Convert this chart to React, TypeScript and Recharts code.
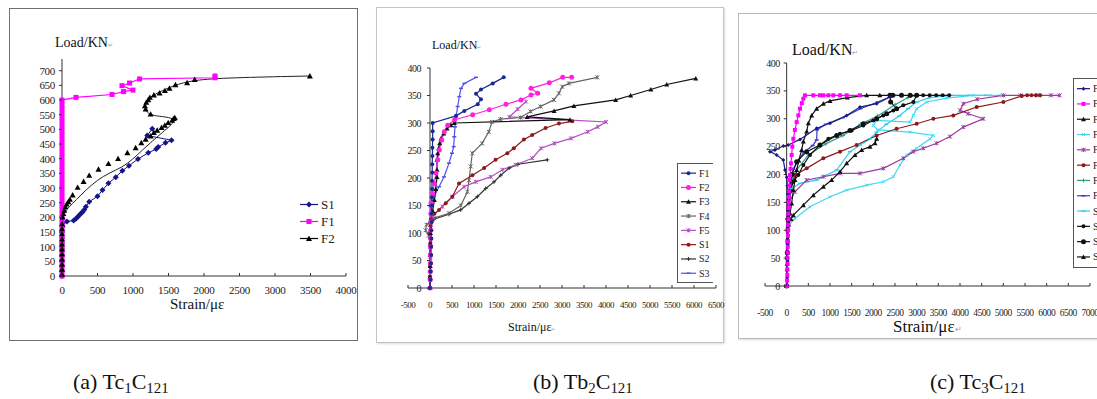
import { LineChart, Line, XAxis, YAxis, ReferenceLine } from 'recharts';

const FONT = '"Liberation Serif", "Times New Roman", serif';

type Pt = [number, number];
type Shape = 'diamond' | 'square' | 'triangle' | 'circle' | 'x' | 'star' | 'plus' | 'dash' | 'none';

interface Series {
  id: string;
  name: string;
  pts: Pt[];
  color: string;
  shape: Shape;
  size: number;
  width?: number;
  noLine?: boolean;
  curve?: 'linear' | 'basis';
}

// ---------- (a) Tc1C121 ----------
const aXTicks = [0, 500, 1000, 1500, 2000, 2500, 3000, 3500, 4000];
const aYTicks = [0, 50, 100, 150, 200, 250, 300, 350, 400, 450, 500, 550, 600, 650, 700];

const aS1: Pt[] = [
  [0, 0], [0, 15], [0, 34], [0, 54], [0, 72], [0, 92], [0, 111], [0, 130], [0, 149], [9, 169], [9, 180],
  [70, 186], [164, 189], [196, 195], [220, 201], [243, 207], [266, 213], [290, 218], [313, 226], [336, 236],
  [383, 253], [500, 272], [570, 293], [654, 316], [757, 337], [850, 359], [944, 376], [1070, 399], [1215, 420],
  [1327, 433], [1355, 440], [1458, 454], [1542, 463], [1201, 479], [1271, 502],
];
const aF1: Pt[] = [
  [0, 0], [0, 15], [0, 30], [0, 45], [0, 60], [0, 75], [0, 90], [0, 105], [0, 120], [0, 135], [0, 150],
  [0, 165], [0, 180], [0, 195], [0, 210], [0, 225], [0, 240], [0, 255], [0, 270], [0, 285], [0, 300],
  [0, 315], [0, 330], [0, 345], [0, 360], [0, 375], [0, 390], [0, 405], [0, 420], [0, 435], [0, 450],
  [0, 465], [0, 480], [0, 495], [0, 510], [0, 525], [0, 540], [0, 555], [0, 570], [0, 585], [0, 600],
  [197, 609], [704, 619], [868, 629], [1000, 634], [845, 649], [952, 658], [1093, 672], [2155, 676], [2155, 682],
];
const aF2: Pt[] = [
  [0, 6], [0, 23], [0, 40], [0, 57], [0, 75], [0, 92], [0, 109], [0, 126], [0, 144], [0, 161], [0, 178],
  [9, 201], [19, 213], [33, 224], [47, 236], [65, 245], [89, 253], [112, 261], [150, 276], [220, 302],
  [304, 322], [383, 343], [514, 364], [654, 383], [790, 400], [921, 420], [1037, 437], [1117, 454],
  [1178, 466], [1248, 477], [1294, 489], [1341, 497], [1402, 506], [1449, 514], [1496, 523], [1552, 531],
  [1575, 537], [1589, 540], [1248, 552], [1178, 569], [1168, 580], [1187, 592], [1215, 601], [1238, 609],
  [1294, 617], [1374, 624], [1449, 632], [1514, 640], [1598, 652], [1762, 659], [1869, 670], [3491, 682],
];
const aF2Curve: Pt[] = [
  [0, 0], [0, 195], [33, 218], [103, 236], [196, 259], [336, 293], [500, 328], [664, 351], [850, 371],
  [991, 397], [1131, 429], [1271, 460], [1411, 489], [1551, 517], [1598, 537], [1411, 544], [1248, 548],
  [1178, 563], [1168, 580], [1187, 598], [1271, 615], [1411, 632], [1598, 652], [1879, 670], [2486, 677],
  [3491, 682],
];

// ---------- (b) Tb2C121 ----------
const bXTicks = [-500, 0, 500, 1000, 1500, 2000, 2500, 3000, 3500, 4000, 4500, 5000, 5500, 6000, 6500];
const bYTicks = [0, 50, 100, 150, 200, 250, 300, 350, 400];

const bF1: Pt[] = [
  [0, 0], [10, 15], [15, 30], [20, 45], [25, 60], [25, 75], [30, 90], [30, 105], [35, 120], [35, 135],
  [40, 150], [40, 165], [45, 180], [45, 195], [50, 210], [50, 225], [55, 240], [55, 255], [60, 270],
  [60, 285], [60, 300], [591, 313], [780, 322], [1084, 334], [1159, 343], [1045, 353], [1159, 361],
  [1425, 372], [1675, 383],
];
const bF2: Pt[] = [
  [0, 0], [5, 15], [5, 30], [10, 45], [10, 60], [10, 75], [15, 90], [15, 105], [20, 120], [20, 135],
  [23, 154], [61, 172], [98, 190], [136, 209], [175, 233], [211, 251], [266, 269], [325, 284], [402, 296],
  [560, 306], [970, 315], [1348, 324], [1727, 334], [2068, 342], [2295, 351], [2448, 354], [2295, 363],
  [2711, 373], [3016, 383], [3220, 383],
];
const bF3: Pt[] = [
  [0, 0], [0, 20], [5, 40], [5, 60], [10, 80], [10, 100], [20, 120], [60, 140], [100, 160], [130, 180],
  [159, 202], [159, 215], [159, 233], [175, 245], [197, 254], [220, 263], [250, 272], [311, 281],
  [387, 290], [478, 296], [552, 300], [3180, 306], [2210, 311], [2820, 322], [3270, 331], [4220, 342],
  [4560, 350], [5020, 361], [5380, 370], [6040, 381],
];
const bF4: Pt[] = [
  [0, 0], [0, 20], [5, 40], [5, 60], [10, 80], [-30, 95], [-100, 105], [-80, 115], [91, 127], [432, 136],
  [700, 150], [850, 175], [886, 196], [925, 221], [961, 245], [1184, 263], [1336, 284], [1412, 302],
  [1602, 307], [2057, 310], [2284, 321], [2512, 330], [2816, 342], [2930, 354], [3005, 366], [3157, 372],
  [3802, 383],
];
const bF5: Pt[] = [
  [0, 0], [0, 25], [5, 50], [5, 75], [10, 100], [20, 115], [53, 130], [280, 148], [507, 166], [773, 184],
  [1038, 193], [1379, 202], [1643, 215], [1947, 224], [2325, 236], [2523, 254], [2826, 263], [3205, 272],
  [3584, 284], [3811, 293], [4000, 302], [1803, 311], [1992, 325], [2182, 339],
];
const bS1: Pt[] = [
  [0, 0], [0, 20], [0, 40], [5, 60], [5, 80], [5, 100], [10, 115], [20, 125], [100, 135], [205, 142],
  [357, 154], [507, 166], [660, 190], [963, 205], [1230, 218], [1490, 233], [1757, 245], [1905, 254],
  [2133, 270], [2322, 278], [2626, 291], [2930, 299], [3233, 303],
];
const bS2: Pt[] = [
  [0, 0], [0, 30], [5, 60], [5, 90], [15, 112], [91, 125], [432, 134], [697, 142], [886, 154], [1075, 166],
  [1266, 181], [1455, 193], [1607, 205], [1800, 218], [2000, 225], [2666, 233],
];
const bS3: Pt[] = [
  [0, 0], [0, 30], [5, 60], [5, 90], [10, 120], [15, 148], [91, 166], [205, 184], [318, 202], [432, 227],
  [500, 245], [538, 257], [552, 275], [568, 293], [591, 311], [629, 330], [666, 348], [705, 363],
  [780, 372], [1045, 383],
];

// ---------- (c) Tc3C121 ----------
const cXTicks = [-500, 0, 500, 1000, 1500, 2000, 2500, 3000, 3500, 4000, 4500, 5000, 5500, 6000, 6500, 7000];
const cYTicks = [0, 50, 100, 150, 200, 250, 300, 350, 400];

const cF1: Pt[] = [
  [0, 0], [10, 15], [15, 30], [20, 45], [20, 60], [25, 75], [25, 90], [25, 105], [30, 120], [30, 135],
  [25, 150], [20, 165], [15, 180], [0, 195], [-39, 208], [-77, 226], [-231, 235], [-385, 241], [-270, 244],
  [-77, 251], [37, 253], [307, 263], [692, 283], [1000, 292], [1385, 306], [1692, 321], [2077, 327],
  [2385, 339],
];
const cF2: Pt[] = [
  [0, 0], [10, 10], [15, 20], [15, 30], [20, 40], [20, 50], [25, 60], [25, 70], [30, 80], [30, 90],
  [35, 100], [35, 110], [40, 120], [40, 130], [45, 140], [45, 150], [50, 160], [55, 170], [60, 180],
  [65, 190], [77, 199], [90, 210], [100, 220], [115, 235], [130, 250], [154, 264], [190, 280], [231, 294],
  [270, 306], [308, 318], [350, 328], [385, 336], [423, 342], [615, 342], [769, 342], [846, 342],
  [962, 342], [1077, 342], [1231, 342], [1385, 342], [1692, 342],
];
const cF3: Pt[] = [
  [0, 0], [10, 30], [15, 60], [20, 85], [38, 112], [77, 130], [115, 148], [154, 172], [192, 190],
  [231, 208], [280, 225], [346, 244], [385, 259], [462, 277], [500, 292], [577, 306], [692, 318],
  [846, 327], [1000, 332], [1400, 338], [1846, 342], [2150, 342], [2400, 342],
];
const cF4: Pt[] = [
  [0, 0], [15, 40], [30, 80], [60, 110], [192, 121], [538, 142], [1000, 160], [1385, 172], [1846, 181],
  [2231, 187], [2462, 196], [2615, 217], [2769, 235], [3000, 247], [3308, 264], [3385, 270], [2850, 276],
  [2100, 280], [2000, 288], [2077, 297], [2846, 294], [2923, 306], [3000, 318], [3231, 330], [3692, 337],
  [4300, 342], [4700, 342], [4950, 342],
];
const cF5: Pt[] = [
  [0, 0], [5, 50], [15, 100], [50, 150], [192, 169], [462, 190], [846, 196], [1231, 202], [1692, 202],
  [2231, 211], [2692, 229], [2923, 241], [3152, 247], [3461, 256], [3768, 268], [4075, 285], [4536, 300],
  [4190, 309], [4000, 315], [4075, 327], [4400, 335], [5000, 342], [5400, 342], [5800, 342], [6100, 342],
  [6300, 342],
];
const cF6: Pt[] = [
  [0, 0], [10, 60], [20, 120], [60, 170], [192, 199], [462, 211], [846, 229], [1231, 241], [1615, 253],
  [2077, 270], [2538, 282], [3000, 291], [3385, 300], [3846, 306], [4385, 321], [5000, 330], [5423, 341],
  [5550, 342], [5650, 342], [5750, 342], [5850, 342],
];
const cF7: Pt[] = [
  [0, 0], [20, 80], [60, 150], [150, 200], [500, 235], [900, 255], [1300, 270], [1700, 290], [2100, 305],
  [2500, 325], [2800, 338], [3000, 342],
];
const cF8: Pt[] = [
  [0, 0], [20, 80], [50, 160], [150, 210], [400, 240], [600, 252], [692, 262], [700, 280], [900, 290],
  [1300, 302], [1700, 318], [2100, 330], [2400, 340], [2500, 342],
];
const cS1: Pt[] = [
  [0, 0], [30, 100], [70, 150], [115, 175], [308, 184], [692, 190], [1154, 208], [1461, 241], [1692, 253],
  [1923, 264], [2077, 276], [2300, 290], [2600, 305], [2800, 318], [3000, 330], [3300, 338], [3800, 342],
  [4200, 342], [4600, 342],
];
const cS2: Pt[] = [
  [0, 0], [10, 50], [20, 100], [40, 140], [80, 170], [154, 187], [269, 199], [385, 217], [538, 235],
  [769, 253], [962, 264], [1231, 273], [1500, 279], [1769, 288], [2000, 297], [2231, 306], [2462, 315],
  [2692, 324], [2923, 330], [3000, 342], [3150, 342], [3300, 342], [3450, 342], [3600, 342], [3750, 342],
];
const cS3: Pt[] = [
  [0, 0], [15, 60], [30, 120], [60, 170], [120, 200], [231, 223], [462, 241], [769, 253], [1154, 270],
  [1461, 279], [1769, 291], [2077, 300], [2308, 309], [2538, 318], [2400, 330], [2385, 342], [2450, 342],
  [2650, 342], [2850, 342], [3000, 342],
];
const cS4: Pt[] = [
  [0, 0], [10, 40], [20, 80], [40, 110], [100, 120], [154, 127], [385, 145], [615, 163], [846, 178],
  [1038, 190], [1231, 205], [1385, 220], [1577, 235], [1731, 244], [1923, 250], [2038, 256], [2077, 264],
];

const aSeries: Series[] = [
  { id: 'aF2c', name: 'F2', pts: aF2Curve, color: '#222', shape: 'none', size: 0, width: 1, curve: 'basis' },
  { id: 'aS1', name: 'S1', pts: aS1, color: '#14148c', shape: 'diamond', size: 6 },
  { id: 'aF1', name: 'F1', pts: aF1, color: '#ff00ff', shape: 'square', size: 5, width: 1.2 },
  { id: 'aF2', name: 'F2', pts: aF2, color: '#000', shape: 'triangle', size: 6, noLine: true },
];

const bSeries: Series[] = [
  { id: 'bS2', name: 'S2', pts: bS2, color: '#333', shape: 'plus', size: 4 },
  { id: 'bF4', name: 'F4', pts: bF4, color: '#666', shape: 'star', size: 4 },
  { id: 'bF5', name: 'F5', pts: bF5, color: '#b050c0', shape: 'star', size: 4 },
  { id: 'bS1', name: 'S1', pts: bS1, color: '#8b1a1a', shape: 'circle', size: 4 },
  { id: 'bS3', name: 'S3', pts: bS3, color: '#5050f0', shape: 'dash', size: 4 },
  { id: 'bF3', name: 'F3', pts: bF3, color: '#111', shape: 'triangle', size: 5 },
  { id: 'bF2', name: 'F2', pts: bF2, color: '#ff22dd', shape: 'circle', size: 5 },
  { id: 'bF1', name: 'F1', pts: bF1, color: '#1a2a90', shape: 'circle', size: 4 },
];
const bLegendOrder = ['F1', 'F2', 'F3', 'F4', 'F5', 'S1', 'S2', 'S3'];

const cSeries: Series[] = [
  { id: 'cF7', name: 'F7', pts: cF7, color: '#2e9c88', shape: 'plus', size: 4 },
  { id: 'cF8', name: 'F8', pts: cF8, color: '#3838d0', shape: 'dash', size: 4 },
  { id: 'cS1', name: 'S1', pts: cS1, color: '#33ccf0', shape: 'dash', size: 4 },
  { id: 'cF4', name: 'F4', pts: cF4, color: '#40d8f0', shape: 'x', size: 3 },
  { id: 'cF5', name: 'F5', pts: cF5, color: '#9a3aa0', shape: 'star', size: 4 },
  { id: 'cF6', name: 'F6', pts: cF6, color: '#8b1a1a', shape: 'circle', size: 4 },
  { id: 'cS4', name: 'S4', pts: cS4, color: '#111', shape: 'triangle', size: 5 },
  { id: 'cS3', name: 'S3', pts: cS3, color: '#111', shape: 'circle', size: 5 },
  { id: 'cS2', name: 'S2', pts: cS2, color: '#111', shape: 'circle', size: 4 },
  { id: 'cF3', name: 'F3', pts: cF3, color: '#111', shape: 'triangle', size: 5 },
  { id: 'cF1', name: 'F1', pts: cF1, color: '#1a1a80', shape: 'diamond', size: 4 },
  { id: 'cF2', name: 'F2', pts: cF2, color: '#ff00ff', shape: 'square', size: 4 },
];
const cLegendOrder = ['F1', 'F2', 'F3', 'F4', 'F5', 'F6', 'F7', 'F8', 'S1', 'S2', 'S3', 'S4'];

function mark(shape: Shape, cx: number, cy: number, size: number, color: string, key?: string) {
  const r = size / 2;
  if (cx == null || cy == null) return <g key={key} />;
  switch (shape) {
    case 'diamond':
      return <polygon key={key} points={`${cx},${cy - r} ${cx + r},${cy} ${cx},${cy + r} ${cx - r},${cy}`} fill={color} />;
    case 'square':
      return <rect key={key} x={cx - r} y={cy - r} width={size} height={size} fill={color} />;
    case 'triangle':
      return <polygon key={key} points={`${cx},${cy - r} ${cx + r},${cy + r * 0.8} ${cx - r},${cy + r * 0.8}`} fill={color} />;
    case 'circle':
      return <circle key={key} cx={cx} cy={cy} r={r} fill={color} />;
    case 'x':
      return <path key={key} d={`M${cx - r},${cy - r}L${cx + r},${cy + r}M${cx - r},${cy + r}L${cx + r},${cy - r}`} stroke={color} />;
    case 'star':
      return <path key={key} d={`M${cx - r},${cy - r}L${cx + r},${cy + r}M${cx - r},${cy + r}L${cx + r},${cy - r}M${cx},${cy - r}L${cx},${cy + r}`} stroke={color} />;
    case 'plus':
      return <path key={key} d={`M${cx - r},${cy}L${cx + r},${cy}M${cx},${cy - r}L${cx},${cy + r}`} stroke={color} />;
    case 'dash':
      return <path key={key} d={`M${cx - r},${cy}L${cx + r},${cy}`} stroke={color} strokeWidth={1.5} />;
    default:
      return <g key={key} />;
  }
}

interface PanelProps {
  left: number;
  top: number;
  width: number;
  height: number;
  margin: { top: number; right: number; bottom: number; left: number };
  yWidth: number;
  xHeight: number;
  xDomain: [number, number];
  xTicks: number[];
  yDomain: [number, number];
  yTicks: number[];
  series: Series[];
  zeroShift: number;
  yGap: number;
  xFont: number;
  yFont: number;
  xDy: number;
  spacing: number;
  lineW: number;
}

function Panel(p: PanelProps) {
  const axis = '#333';
  const xTick = (t: any) => (
    <g>
      <line x1={t.x} x2={t.x} y1={t.y} y2={t.y - 3} stroke={axis} />
      <text x={t.x} y={t.y + p.xDy} textAnchor="middle" fontSize={p.xFont} fill="#222" fontFamily={FONT} letterSpacing={p.spacing}>
        {t.payload.value}
      </text>
    </g>
  );
  const yTick = (t: any) => (
    <g>
      <line x1={t.x + p.zeroShift - 3} x2={t.x + p.zeroShift} y1={t.y} y2={t.y} stroke={axis} />
      <text x={t.x + p.zeroShift - p.yGap} y={t.y} dy="0.35em" textAnchor="end" fontSize={p.yFont} fill="#222" fontFamily={FONT} letterSpacing={p.spacing}>
        {t.payload.value}
      </text>
    </g>
  );
  return (
    <div style={{ position: 'absolute', left: p.left, top: p.top }}>
      <LineChart width={p.width} height={p.height} margin={p.margin}>
        <XAxis
          type="number"
          dataKey="x"
          domain={p.xDomain}
          ticks={p.xTicks}
          interval={0}
          height={p.xHeight}
          tickSize={0}
          tickMargin={0}
          tickLine={false}
          axisLine={{ stroke: axis }}
          tick={xTick}
        />
        <YAxis
          type="number"
          domain={p.yDomain}
          ticks={p.yTicks}
          interval={0}
          width={p.yWidth}
          tickSize={0}
          tickMargin={0}
          tickLine={false}
          axisLine={p.zeroShift === 0 ? { stroke: axis } : false}
          tick={yTick}
        />
        {p.zeroShift > 0 && <ReferenceLine x={0} stroke={axis} />}
        {p.series.map((s) => (
          <Line
            key={s.id}
            data={s.pts.map(([x, y]) => ({ x, [s.id]: y }))}
            dataKey={s.id}
            name={s.name}
            type={s.curve ?? 'linear'}
            stroke={s.noLine ? 'none' : s.color}
            strokeWidth={s.width ?? p.lineW}
            dot={s.shape === 'none' ? false : (d: any) => mark(s.shape, d.cx, d.cy, s.size, s.color, `${s.id}-${d.index}`)}
            activeDot={false}
            isAnimationActive={false}
          />
        ))}
      </LineChart>
    </div>
  );
}

function Key({ items, left, top, rowH, lineLen, fs, box, w, h }: {
  items: Series[]; left: number; top: number; rowH: number; lineLen: number; fs: number; box: boolean; w: number; h: number;
}) {
  return (
    <svg style={{ position: 'absolute', left, top }} width={w} height={h}>
      {box && <rect x={0.5} y={0.5} width={w + 20} height={h - 1} fill="#fff" stroke="#555" />}
      {items.map((s, i) => {
        const y = (box ? rowH / 2 + 3 : rowH / 2) + i * rowH;
        const x0 = box ? 4 : 0;
        return (
          <g key={s.id}>
            <line x1={x0} x2={x0 + lineLen} y1={y} y2={y} stroke={s.color} strokeWidth={1.2} />
            {mark(s.shape, x0 + lineLen / 2, y, s.size, s.color)}
            <text x={x0 + lineLen + 3} y={y} dy="0.35em" fontSize={fs} fontFamily={FONT} fill="#222">{s.name}</text>
          </g>
        );
      })}
    </svg>
  );
}

const txt = (left: number, top: number, size: number): React.CSSProperties => ({
  position: 'absolute', left, top, fontSize: size, fontFamily: FONT, lineHeight: 1, whiteSpace: 'nowrap', color: '#111',
});
const mk = <span style={{ fontSize: '0.45em', color: '#999' }}>↵</span>;
const sub: React.CSSProperties = { fontSize: '0.68em', verticalAlign: '-0.25em' };

export default function App() {
  const bLegend = bLegendOrder.map((n) => bSeries.find((s) => s.name === n)!);
  const cLegend = cLegendOrder.map((n) => cSeries.find((s) => s.name === n)!);
  const aLegend = [aSeries[1], aSeries[2], aSeries[3]];
  return (
    <div style={{ position: 'absolute', left: 0, top: 0, width: 1097, height: 399, overflow: 'hidden', background: '#fff' }}>
      <div style={{ position: 'absolute', left: 9, top: 8, width: 347, height: 331, border: '1.5px solid #707070' }} />
      <div style={{ position: 'absolute', left: 376, top: 7, width: 346, height: 334, border: '1px solid #c4c4c4', boxShadow: '1px 1px 2px rgba(0,0,0,0.15)' }} />
      <div style={{ position: 'absolute', left: 738, top: 13, width: 380, height: 324, border: '1px solid #b8b8b8', boxShadow: '1px 1px 2px rgba(0,0,0,0.15)' }} />

      <Panel
        left={0} top={0} width={360} height={300}
        margin={{ top: 59, right: 14, bottom: 0, left: 0 }}
        yWidth={62} xHeight={24}
        xDomain={[0, 4000]} xTicks={aXTicks} yDomain={[0, 740]} yTicks={aYTicks}
        series={aSeries} zeroShift={0} yGap={7} xFont={11} yFont={11} xDy={18} spacing={-0.3} lineW={1}
      />
      <Panel
        left={370} top={0} width={360} height={320}
        margin={{ top: 68, right: 14, bottom: 0, left: 0 }}
        yWidth={38} xHeight={32}
        xDomain={[-500, 6500]} xTicks={bXTicks} yDomain={[0, 400]} yTicks={bYTicks}
        series={bSeries} zeroShift={22} yGap={9} xFont={9} yFont={10} xDy={20} spacing={-0.5} lineW={1.2}
      />
      <Panel
        left={730} top={0} width={367} height={320}
        margin={{ top: 63, right: 7, bottom: 0, left: 0 }}
        yWidth={35} xHeight={34}
        xDomain={[-500, 7000]} xTicks={cXTicks} yDomain={[0, 400]} yTicks={cYTicks}
        series={cSeries} zeroShift={21.7} yGap={7} xFont={9.5} yFont={10} xDy={30} spacing={-0.5} lineW={1.2}
      />

      <Key items={aLegend} left={300} top={196} rowH={17} lineLen={18} fs={13} box={false} w={50} h={55} />
      <Key items={bLegend} left={677} top={163} rowH={14.3} lineLen={15} fs={10} box w={36} h={120} />
      <Key items={cLegend} left={1073} top={78} rowH={15.3} lineLen={13} fs={10} box w={30} h={190} />

      <div style={txt(55, 36, 14)}>Load/KN{mk}</div>
      <div style={txt(170, 297, 15)}>Strain/με</div>
      <div style={txt(432, 39, 12)}>Load/KN{mk}</div>
      <div style={txt(508, 321, 12)}>Strain/με{mk}</div>
      <div style={txt(792, 42, 16)}>Load/KN{mk}</div>
      <div style={txt(893, 318, 17)}>Strain/με{mk}</div>

      <div style={txt(73, 371, 22)}>(a) Tc<span style={sub}>1</span>C<span style={sub}>121</span></div>
      <div style={txt(533, 371, 22)}>(b) Tb<span style={sub}>2</span>C<span style={sub}>121</span></div>
      <div style={txt(930, 371, 22)}>(c) Tc<span style={sub}>3</span>C<span style={sub}>121</span></div>
    </div>
  );
}
